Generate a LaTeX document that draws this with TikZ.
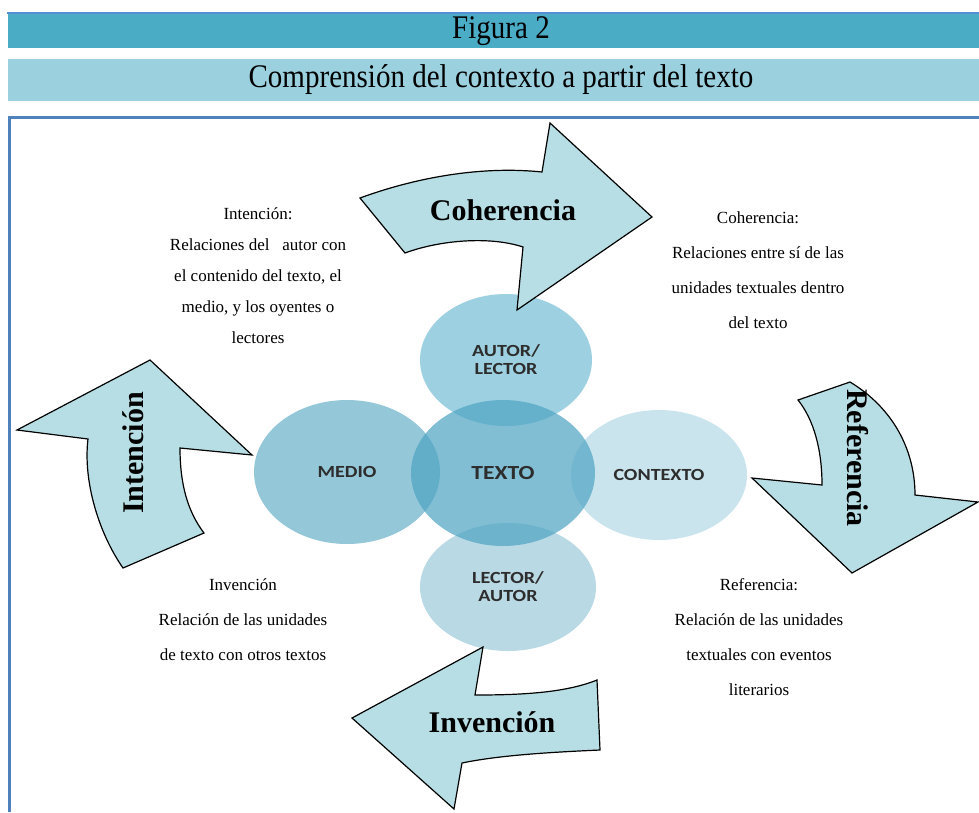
\documentclass[tikz,border=0pt]{standalone}
\usepackage{fontspec}
\setmainfont{Liberation Serif}
\newfontfamily\circfont[FakeStretch=1.18]{Carlito}
\newfontfamily\titlefont[FakeStretch=0.88]{Liberation Serif}
\usetikzlibrary{shapes.geometric}
\definecolor{bardark}{RGB}{75,172,198}
\definecolor{barlight}{RGB}{155,208,222}
\definecolor{framebl}{RGB}{79,129,189}
\definecolor{linebl}{RGB}{85,142,213}
\definecolor{arrowfill}{RGB}{183,222,228}
\definecolor{circlabel}{RGB}{45,45,45}
\begin{document}
\begin{tikzpicture}[x=1pt,y=-1pt,
    circ/.style={ellipse,inner sep=0pt,fill opacity=0.82,text opacity=1,
      text=circlabel,font=\circfont\bfseries\fontsize{17}{18}\selectfont,align=center},
    blockarrow/.style={fill=arrowfill,draw=black,line width=1.2pt,line join=miter},
    arrowlabel/.style={font=\bfseries\fontsize{30}{34}\selectfont,inner sep=0pt},
    note/.style={font=\fontsize{17}{#1}\selectfont,align=center,inner sep=0pt},
    title/.style={font=\titlefont\fontsize{33}{36}\selectfont,inner sep=0pt}]
  \useasboundingbox (0,0) rectangle (979,812);
  % cabecera
  \fill[bardark] (8,14) rectangle (979,48);
  \fill[barlight] (8,59) rectangle (979,101);
  \draw[linebl,line width=2pt] (7,13) -- (979,13);
  \draw[framebl,line width=3pt] (9.5,812) -- (9.5,117) -- (979,117);
  \node[title] (fig) at (501,31) {Figura 2};
  \node[title] (tit) at (501,80) {Comprensión del contexto a partir del texto};
  % circulos
  \draw
    (347,472) node[circ,fill={rgb,255:red,125;green,188;blue,209},minimum width=186pt,minimum height=144pt] (medio) {MEDIO}
    (659,475) node[circ,fill={rgb,255:red,190;green,222;blue,233},minimum width=176pt,minimum height=130pt] (contexto) {CONTEXTO}
    (506,360) node[circ,fill={rgb,255:red,136;green,198;blue,218},minimum width=172pt,minimum height=132pt] (autor) {AUTOR/\\LECTOR}
    (508,587) node[circ,fill={rgb,255:red,170;green,209;blue,223},minimum width=176pt,minimum height=128pt] (lector) {LECTOR/\\AUTOR}
    (503,473) node[circ,fill={rgb,255:red,80;green,165;blue,195},fill opacity=0.72,minimum width=184pt,minimum height=146pt,
      font=\circfont\bfseries\fontsize{20}{22}\selectfont] (texto) {TEXTO};
  % flechas
  \draw[blockarrow] (360,198) .. controls (420,176) and (485,166) .. (542,172) -- (550,123) -- (652,217)
    -- (517,310) -- (523,247) .. controls (490,236) and (440,240) .. (405,253) -- cycle;
  \draw[blockarrow] (150,360) -- (252,455) -- (180,448) .. controls (180,485) and (188,512) .. (204,533)
    -- (123,568) .. controls (98,532) and (83,480) .. (88,439) -- (17,430) -- cycle;
  \draw[blockarrow] (798,400) -- (850,382) .. controls (893,408) and (915,450) .. (915,495) -- (978,502)
    -- (852,573) -- (752,478) -- (822,485) .. controls (822,450) and (814,420) .. (798,400) -- cycle;
  \draw[blockarrow] (597,680) -- (600,750) .. controls (555,752) and (500,755) .. (462,763) -- (454,809)
    -- (352,718) -- (483,647) -- (475,695) .. controls (520,695) and (565,693) .. (597,680) -- cycle;
  \node[arrowlabel] (coh) at (503,210) {Coherencia};
  \node[arrowlabel,rotate=90] (int) at (133,453) {Intención};
  \node[arrowlabel,rotate=-90] (ref) at (858,458) {Referencia};
  \node[arrowlabel] (inv) at (492,722) {Invención};
  % textos
  \node[note=31] (int-txt) at (258,276) {Intención:\\Relaciones del \ \ autor con\\el contenido del texto, el\\medio, y los oyentes o\\lectores};
  \node[note=35] (coh-txt) at (758,270) {Coherencia:\\Relaciones entre sí de las\\unidades textuales dentro\\del texto};
  \node[note=35] (inv-txt) at (243,620) {Invención\\Relación de las unidades\\de texto con otros textos};
  \node[note=35] (ref-txt) at (759,637) {Referencia:\\Relación de las unidades\\textuales con eventos\\literarios};
\end{tikzpicture}
\end{document}
